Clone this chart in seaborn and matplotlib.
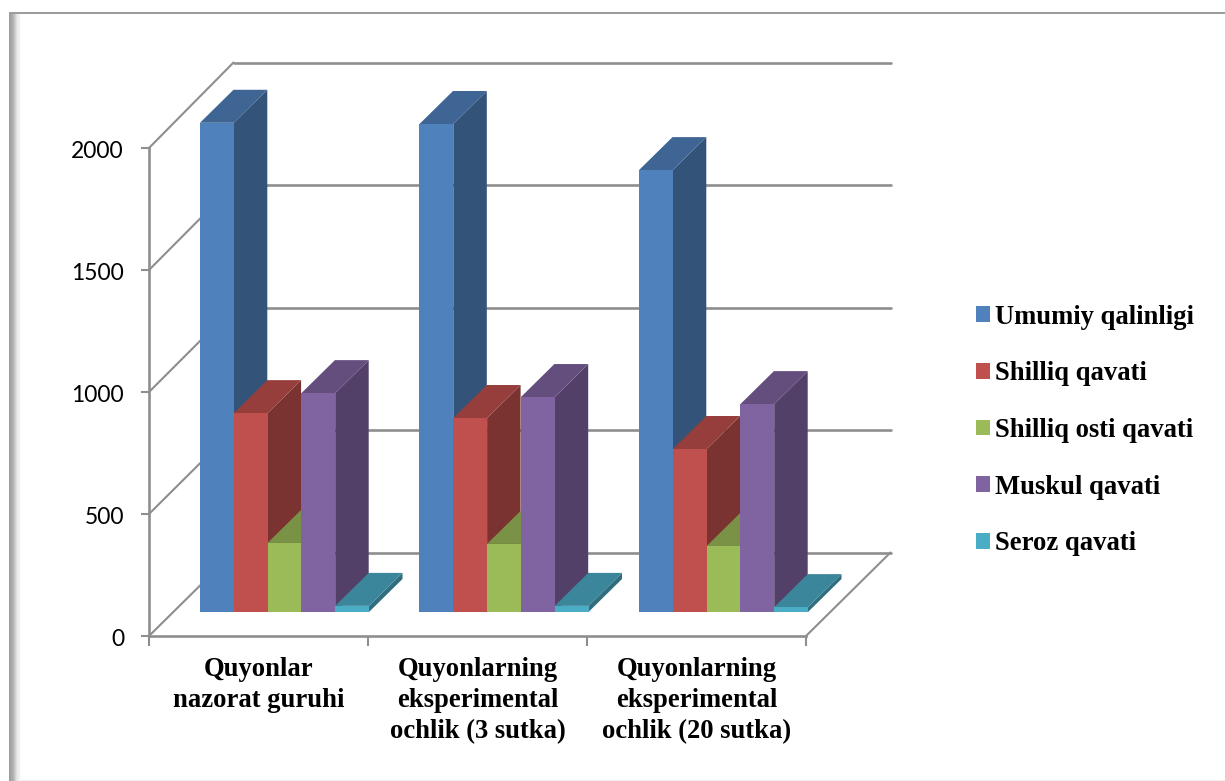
import matplotlib
matplotlib.use("Agg")
import matplotlib.pyplot as plt
import pandas as pd
import seaborn as sns
from matplotlib.colors import to_rgb
from matplotlib.patches import Polygon, Rectangle
from matplotlib.transforms import ScaledTranslation

# Wall thickness of rabbit tissue layers per experimental group
groups = ["Quyonlar\nnazorat guruhi",
          "Quyonlarning\neksperimental\nochlik (3 sutka)",
          "Quyonlarning\neksperimental\nochlik (20 sutka)"]
layers = ["Umumiy qalinligi", "Shilliq qavati", "Shilliq osti qavati",
          "Muskul qavati", "Seroz qavati"]
umumiy = [2005, 2000, 1811]
shilliq = [815, 795, 668]
shilliq_osti = [283, 279, 270]
muskul = [897, 881, 852]
seroz = [25, 25, 20]
colors = ["#4F81BD", "#C0504D", "#9BBB59", "#8064A2", "#4BACC6"]
y_ticks = [0, 500, 1000, 1500, 2000]

W, H = 1225, 781
GRID = "#8E8E8E"
SERIF = "Liberation Serif"


def box(left, right, top, bottom):
    """Axes rectangle from pixel edges measured from the top-left corner."""
    return [left / W, 1 - bottom / H, (right - left) / W, (bottom - top) / H]


def shade(color, k):
    return tuple(c * k for c in to_rgb(color))


sns.set_theme(style="white")
fig = plt.figure(figsize=(W / 100, H / 100), dpi=100, facecolor="white")

# Soft frame around the chart area
left_band = ["#9A9A9A", "#A2A2A2", "#ABABAB", "#B6B6B6", "#C4C4C4", "#D2D2D2",
             "#E0E0E0", "#ECECEC", "#F4F4F4", "#FAFAFA"]
for i, c in enumerate(left_band):
    fig.add_artist(Rectangle(((9 + i * 1.2) / W, 0), 1.2 / W, 1 - 12 / H,
                             transform=fig.transFigure, fc=c, ec="none"))
fig.add_artist(Rectangle((9 / W, 1 - 14 / H), 1 - 9 / W, 2 / H,
                         transform=fig.transFigure, fc="#9C9C9C", ec="none"))
fig.add_artist(Rectangle((20 / W, 0), 1, 1.5 / H,
                         transform=fig.transFigure, fc="#EFEFEF", ec="none"))

# Front plane: value axis, category axis and the receding walls
ax = fig.add_axes(box(149, 806, 148, 636), facecolor="none")
ax.set_xlim(-0.5, 2.5)
ax.set_ylim(0, 2000)
ax.set_yticks(y_ticks)
ax.set_xticks(range(3))
ax.set_xticklabels(groups, fontfamily=SERIF, fontweight="bold", fontsize=19.2,
                   linespacing=1.34, color="black")
ax.set_xticks([-0.5, 0.5, 1.5, 2.5], minor=True)
ax.tick_params(axis="x", which="major", length=0, pad=14.8)
ax.tick_params(axis="x", which="minor", bottom=True, length=7, width=1.5, color=GRID)
ax.tick_params(axis="y", left=True, length=6, width=1.5, color=GRID, pad=12,
               labelsize=16.5, labelcolor="black")
nudge = ScaledTranslation(0, -1.5 / 100, fig.dpi_scale_trans)
for lab in ax.get_yticklabels():
    lab.set_fontfamily("Lato")
    lab.set_transform(lab.get_transform() + nudge)
for name in ("top", "right"):
    ax.spines[name].set_visible(False)
for name in ("left", "bottom"):
    ax.spines[name].set_color(GRID)
    ax.spines[name].set_linewidth(1.9)

wall_dx = 84.5 / 219
wall_dv = 83.5 / 0.244
back_scale = 490 / 488
line = dict(color=GRID, lw=1.9, clip_on=False, solid_capstyle="round", zorder=1)
for v in y_ticks:
    back = v * back_scale + wall_dv
    ax.plot([-0.5, -0.5 + wall_dx], [v, back], lw=1.5, color=GRID, clip_on=False, zorder=1)
    ax.plot([-0.5 + wall_dx, 2.5 + wall_dx], [back, back], **line)
ax.plot([2.5, 2.5 + wall_dx], [0, wall_dv], lw=1.5, color=GRID, clip_on=False, zorder=1)

# Bar plane sits a little behind the front axis
data = pd.DataFrame({
    "group": groups * 5,
    "layer": [n for n in layers for _ in groups],
    "value": umumiy + shilliq + shilliq_osti + muskul + seroz,
})
ax_bars = fig.add_axes(box(174.75, 833.25, 124, 612), facecolor="none")
sns.barplot(data=data, x="group", y="value", hue="layer", hue_order=layers,
            order=groups, palette=colors, saturation=1, width=0.77, gap=0,
            errorbar=None, linewidth=0, ax=ax_bars)
ax_bars.set_xlim(-0.5, 2.5)
ax_bars.set_ylim(0, 2000)
ax_bars.axis("off")

# Extrude every bar into a box, painting from left to right
depth_x = 33.5 / 219.5
depth_v = 33.0 / 0.244
bars = sorted((p for p in ax_bars.patches if p.get_height() > 0), key=lambda p: p.get_x())
for i, bar in enumerate(bars):
    x0, x1 = bar.get_x(), bar.get_x() + bar.get_width()
    h = bar.get_height()
    face = bar.get_facecolor()
    z = 2 + i
    ax_bars.add_patch(Polygon(
        [(x1, 0), (x1 + depth_x, depth_v), (x1 + depth_x, h + depth_v), (x1, h)],
        fc=shade(face, 0.64), ec="none", clip_on=False, zorder=z))
    ax_bars.add_patch(Polygon(
        [(x0, h), (x0 + depth_x, h + depth_v), (x1 + depth_x, h + depth_v), (x1, h)],
        fc=shade(face, 0.78), ec="none", clip_on=False, zorder=z))
    bar.set_clip_on(False)
    bar.set_zorder(z + 0.5)

sns.move_legend(ax_bars, loc="upper left", bbox_to_anchor=(976 / W, 1 - 304.5 / H),
                bbox_transform=fig.transFigure, title=None, frameon=False,
                prop=dict(family=SERIF, weight="bold", size=19.2),
                labelcolor="black",
                labelspacing=1.19, handlelength=0.525, handleheight=0.525,
                handletextpad=0.19, borderpad=0, borderaxespad=0)

fig.savefig("out.png", dpi=100)
